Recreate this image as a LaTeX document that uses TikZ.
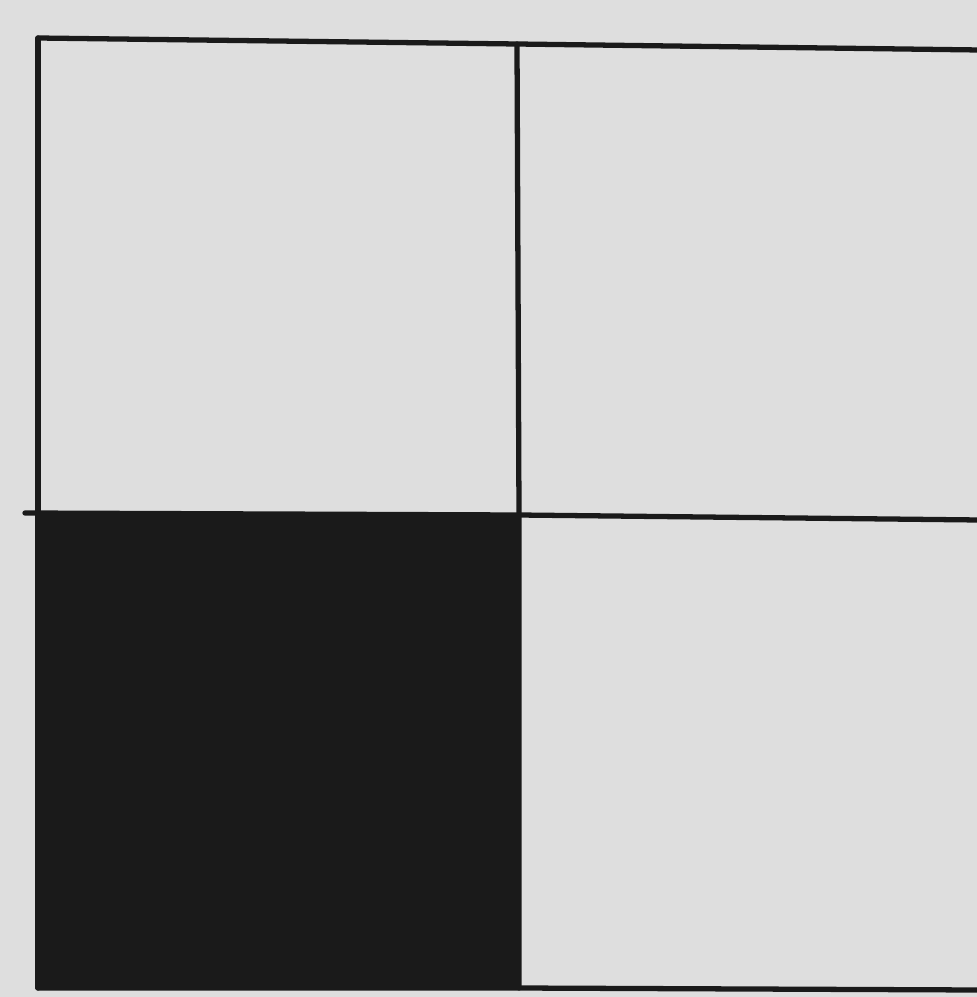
\documentclass[tikz,border=0pt]{standalone}
\usepackage{tikz}
\definecolor{bg}{HTML}{DEDEDE}
\definecolor{ink}{HTML}{1A1A1A}
\tikzset{gridline/.style={draw=ink, line width=1.5pt, line cap=round}}
\begin{document}
\begin{tikzpicture}[x=0.01cm, y=-0.01cm]
\useasboundingbox (0,0) rectangle (977,997);
\fill[bg] (0,0) rectangle (977,997);
% corner points
\coordinate (tl) at (38,38);
\coordinate (tm) at (517,44);
\coordinate (tr) at (980,50);
\coordinate (ml) at (25,513);
\coordinate (mc) at (519,515);
\coordinate (mr) at (980,520);
\coordinate (bl) at (38,988);
\coordinate (bm) at (519,988);
\coordinate (br) at (980,990);
% black cell
\fill[ink] (38,514) -- (mc) -- (bm) -- (bl) -- cycle;
% grid lines
\draw[gridline] (tl) -- (tm) -- (tr);
\draw[gridline] (ml) -- (mc) -- (mr);
\draw[gridline] (bl) -- (bm) -- (br);
\draw[gridline] (tl) -- (bl);
\draw[gridline] (tm) -- (mc) -- (bm);
\end{tikzpicture}
\end{document}
